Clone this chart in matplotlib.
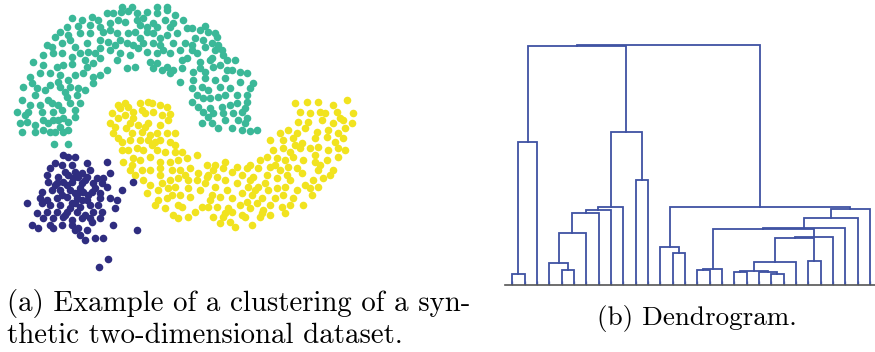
import numpy as np
import matplotlib.pyplot as plt

# cluster points, in pixel-like units (x to the right, y downwards)
teal_pts = [
    (122, 7), (132, 7), (157, 7), (167, 7),
    (107, 13), (113, 13), (121, 12), (128, 11), (137, 13), (147, 12), (157, 13), (167, 10), (175, 15),
    (92, 17), (98, 20), (90, 25), (100, 27), (110, 23), (118, 20), (137, 20), (143, 18), (153, 23),
    (165, 20), (173, 23), (147, 27), (157, 27), (170, 27),
    (67, 27), (78, 26), (60, 32), (55, 37), (68, 35), (80, 33), (90, 33), (103, 32), (117, 33), (128, 33),
    (135, 32), (147, 32), (153, 33), (167, 35), (177, 33),
    (47, 45), (52, 47), (62, 43), (70, 40), (75, 47), (87, 43), (100, 40), (108, 42), (115, 45), (127, 43),
    (133, 45), (143, 43), (153, 43), (160, 45), (173, 43),
    (43, 55), (53, 53), (62, 53), (72, 57), (80, 53), (88, 52), (95, 53), (110, 50), (120, 53), (130, 55),
    (138, 48), (147, 52), (157, 53), (163, 50), (170, 53),
    (33, 62), (43, 65), (57, 67), (63, 65), (72, 64), (87, 67), (93, 63), (107, 70), (117, 60),
    (30, 77), (40, 73), (50, 73), (60, 75), (83, 73), (93, 77), (100, 75), (32, 83), (58, 82), (68, 80),
    (93, 83), (23, 87), (37, 88), (60, 87), (70, 87), (78, 88), (85, 90), (67, 97), (77, 95),
    (22, 100), (48, 100), (52, 103), (58, 105), (70, 103), (80, 103), (30, 105), (40, 105),
    (17, 112), (28, 112), (42, 112), (53, 112), (62, 110), (75, 110), (63, 118), (75, 117),
    (27, 122), (43, 120), (53, 120), (20, 123), (48, 123), (58, 120), (68, 122),
    (22, 132), (35, 132), (43, 130), (50, 132), (55, 132), (63, 132), (68, 130), (54, 144), (68, 144),
    (127, 68), (135, 67), (150, 62), (157, 63), (167, 67), (173, 70), (153, 68), (162, 70), (170, 73),
    (183, 20), (187, 28), (192, 28), (200, 30), (205, 26), (208, 32), (215, 33), (217, 37),
    (185, 43), (192, 45), (203, 40), (212, 43), (218, 45), (192, 50), (197, 53), (205, 47), (215, 50),
    (222, 50), (223, 55), (182, 60), (187, 58), (200, 62), (212, 58), (227, 60), (235, 60),
    (182, 68), (193, 72), (200, 68), (205, 72), (213, 67), (227, 70), (232, 70), (240, 72), (247, 73),
    (180, 82), (193, 80), (205, 78), (225, 78), (253, 83), (192, 88), (202, 87), (208, 90), (220, 87),
    (250, 88), (197, 95), (203, 98), (210, 98), (218, 97), (225, 95), (237, 95), (247, 95),
    (198, 107), (210, 108), (222, 107), (237, 103), (247, 102), (245, 108),
    (203, 112), (213, 113), (223, 113), (233, 113), (242, 112), (247, 118),
    (202, 123), (212, 123), (218, 128), (232, 128), (242, 130), (257, 130), (245, 123), (250, 131),
    (85, 60), (100, 58), (75, 75), (45, 90), (50, 85), (35, 95), (65, 92), (25, 115), (35, 125),
    (60, 127), (100, 48), (120, 40), (140, 38), (160, 38), (180, 50), (195, 38), (210, 60), (220, 65),
    (240, 82), (215, 80), (230, 88), (192, 102), (230, 105), (225, 120), (208, 117), (238, 120),
    (110, 30), (140, 25), (125, 22), (82, 20), (72, 18),
]

yellow_pts = [
    (112, 113), (118, 105), (120, 108), (128, 107), (133, 112), (140, 103), (142, 110), (148, 102),
    (152, 103), (160, 105), (167, 107), (125, 115), (133, 118), (145, 113), (153, 112), (162, 115),
    (168, 120), (110, 123), (115, 127), (130, 123), (138, 125), (148, 123), (160, 125),
    (113, 133), (132, 133), (142, 132), (150, 135), (157, 133), (167, 133), (175, 133),
    (122, 142), (130, 140), (148, 140), (155, 142), (170, 142), (175, 145),
    (122, 150), (137, 148), (143, 150), (157, 150), (165, 152), (175, 152), (182, 152),
    (123, 162), (133, 158), (140, 160), (150, 157), (160, 162), (170, 162), (178, 160), (187, 158),
    (197, 155), (132, 165), (130, 170), (142, 170), (150, 170), (160, 168), (172, 170), (180, 170),
    (190, 168), (198, 173), (143, 180), (160, 175), (162, 183), (178, 178), (188, 180), (175, 187),
    (188, 188), (147, 193), (158, 200), (167, 198), (172, 195), (180, 195), (190, 197),
    (155, 205), (165, 208), (178, 205), (173, 215), (178, 218), (188, 217),
    (207, 165), (213, 170), (207, 177),
    (295, 103), (307, 102), (318, 102), (333, 105), (347, 100), (310, 113), (320, 112), (337, 112),
    (353, 113), (298, 122), (308, 122), (322, 120), (333, 123), (343, 120), (352, 123),
    (288, 130), (297, 133), (317, 132), (328, 130), (338, 133), (283, 140), (293, 138), (302, 143),
    (315, 138), (327, 137), (335, 142), (343, 138), (273, 150), (283, 148), (290, 152), (300, 148),
    (310, 148), (318, 147), (328, 150), (338, 148), (345, 150), (260, 160), (267, 157), (277, 158),
    (285, 160), (293, 157), (303, 160), (315, 162), (327, 160), (338, 157), (250, 165), (258, 168),
    (270, 167), (280, 170), (288, 167), (297, 168), (318, 170), (333, 170), (237, 167), (247, 168),
    (223, 168), (232, 172), (242, 175), (253, 177), (267, 175), (277, 178), (287, 175), (302, 173),
    (313, 180), (323, 178), (330, 175), (208, 175), (217, 177), (225, 180), (237, 183), (250, 180),
    (258, 187), (268, 190), (277, 188), (285, 187), (297, 190), (310, 188), (318, 187),
    (197, 180), (205, 183), (215, 187), (227, 190), (242, 193), (252, 195), (262, 198), (283, 195),
    (293, 198), (303, 205), (212, 195), (220, 197), (232, 198), (247, 202), (257, 203), (270, 205),
    (282, 207), (202, 207), (208, 207), (217, 207), (228, 208), (250, 208), (263, 210), (270, 215),
    (213, 217), (223, 217), (242, 215), (230, 222), (220, 223), (235, 227), (252, 225), (260, 217),
    (312, 195), (285, 213), (262, 213), (245, 217), (232, 212),
    (118, 118), (126, 128), (118, 138), (128, 150), (135, 175), (150, 185), (168, 188), (182, 207),
    (195, 212), (200, 190), (215, 165), (225, 162), (275, 165), (290, 180), (305, 185), (320, 165),
    (345, 128), (340, 118), (325, 113), (300, 112), (280, 133), (270, 140), (305, 128), (315, 155),
    (295, 145), (255, 190), (240, 205), (225, 213), (275, 198), (290, 205), (265, 183), (248, 187),
    (210, 200), (185, 175), (170, 180), (158, 190), (152, 145), (140, 140), (160, 140), (145, 127),
    (125, 103), (170, 114),
]

navy_pts = [
    (63, 155), (68, 157), (75, 157), (55, 163), (62, 165), (72, 165), (87, 163), (107, 162),
    (50, 168), (65, 172), (75, 172), (82, 173), (90, 170), (47, 175), (58, 177), (68, 175),
    (78, 177), (87, 177), (97, 178), (103, 178), (110, 173), (48, 182), (57, 183), (63, 182),
    (72, 182), (82, 183), (93, 183), (102, 183), (107, 187), (122, 190), (42, 192), (52, 190),
    (60, 190), (70, 190), (75, 193), (83, 192), (92, 192), (100, 193), (40, 198), (47, 200),
    (57, 198), (67, 197), (77, 198), (87, 200), (100, 198), (110, 198), (117, 200), (27, 203),
    (42, 203), (50, 205), (60, 205), (72, 203), (80, 207), (90, 205), (98, 205), (115, 208),
    (37, 213), (47, 212), (57, 212), (67, 212), (77, 212), (85, 215), (93, 212), (102, 212),
    (43, 218), (53, 218), (63, 217), (72, 220), (82, 218), (92, 222), (100, 218), (32, 225),
    (38, 228), (50, 225), (62, 225), (72, 225), (78, 228), (87, 230), (113, 225), (53, 228),
    (75, 230), (80, 235), (85, 240), (95, 238), (103, 238),
    (67, 185), (80, 188), (73, 178), (85, 180), (62, 195), (78, 193), (88, 195), (70, 208),
    (82, 200), (55, 185), (95, 188), (75, 203), (65, 215), (90, 218),
    (133, 182), (137, 230), (108, 259), (99, 267),
]

# dendrogram merges: node 30 + k joins link_a[k] and link_b[k] at link_h[k]
n_leaves = 30
link_a = [21, 0, 18, 20, 32, 4, 15, 36, 3, 34, 24, 13, 12, 39, 43, 38, 37, 46, 47, 45, 49, 48, 42, 50, 10, 31, 53, 55, 57]
link_b = [22, 1, 19, 30, 33, 5, 16, 17, 35, 23, 25, 14, 41, 40, 26, 6, 44, 27, 28, 7, 8, 29, 51, 9, 11, 2, 54, 56, 52]
link_h = [11.0, 11.3, 13.0, 13.7, 14.0, 15.3, 15.7, 16.0, 22.7, 23.7, 24.7, 32.0, 38.0, 47.0, 48.7,
          52.3, 56.0, 57.3, 67.0, 72.0, 75.3, 76.0, 78.3, 78.7, 105.3, 143.0, 153.7, 239.7, 240.7]

caption_a = ["(a) Example of a clustering of a syn-", "thetic two-dimensional dataset."]
caption_b = "(b) Dendrogram."

teal = "#3bb898"
yellow = "#f1e31f"
navy = "#2f2d80"
line_blue = "#3f52a3"

W, H = 875, 352
fig = plt.figure(figsize=(W / 100, H / 100), dpi=100)

# scatter panel
ax1 = fig.add_axes([0, (H - 280) / H, 370 / W, 280 / H])
for pts, col in [(teal_pts, teal), (yellow_pts, yellow), (navy_pts, navy)]:
    p = np.array(pts)
    ax1.scatter(p[:, 0], p[:, 1], s=30, c=col, linewidths=0)
ax1.set_xlim(0, 370)
ax1.set_ylim(280, 0)
ax1.axis("off")

# dendrogram panel
ax2 = fig.add_axes([500 / W, (H - 285.3) / H, 375 / W, 250 / H])
xpos = list(range(n_leaves))
hpos = [0.0] * n_leaves
for a, b, h in zip(link_a, link_b, link_h):
    xa, xb = xpos[a], xpos[b]
    ax2.plot([xa, xa, xb, xb], [hpos[a], h, h, hpos[b]], color=line_blue, lw=1.3,
             solid_joinstyle="miter")
    xpos.append((xa + xb) / 2)
    hpos.append(h)

ax2.set_xlim((500 - 512.3) / 12.33, (875 - 512.3) / 12.33)
ax2.set_ylim(0, 250)
for s in ["top", "right", "left"]:
    ax2.spines[s].set_visible(False)
ax2.spines["bottom"].set_color("#555555")
ax2.spines["bottom"].set_linewidth(1.2)
ax2.spines["bottom"].set_bounds(-0.6, 29.5)
ax2.set_xticks(range(n_leaves))
ax2.set_xticklabels([])
ax2.tick_params(axis="x", direction="in", length=3, width=1, color="#7080bb")
ax2.set_yticks([])
ax2.patch.set_alpha(0)

# captions
fig.text(7 / W, (H - 311) / H, caption_a[0], family="cmr10", size=20.8, va="baseline")
fig.text(7 / W, (H - 343) / H, caption_a[1], family="cmr10", size=20.8, va="baseline")
fig.text(697 / W, (H - 325) / H, caption_b, family="cmr10", size=19.5, va="baseline", ha="center")

fig.savefig("out.png", dpi=100)
